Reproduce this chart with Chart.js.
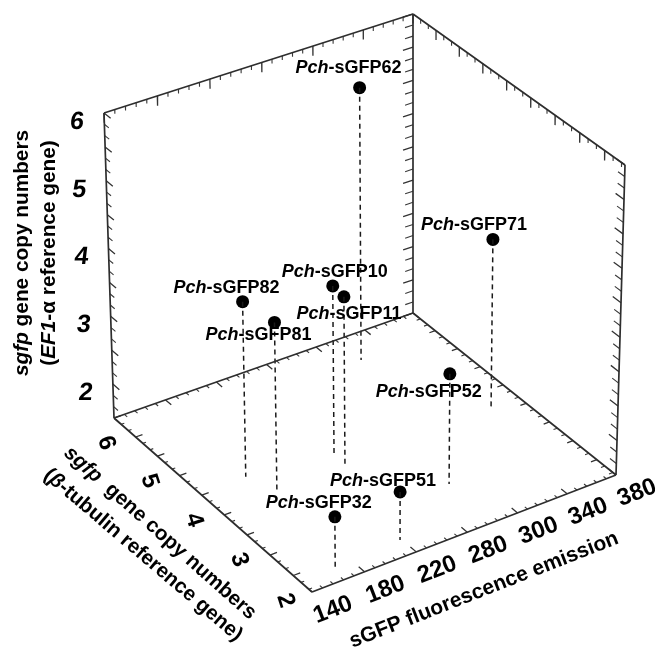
<!DOCTYPE html>
<html>
<head>
<meta charset="utf-8">
<style>html,body{margin:0;padding:0;background:#fff}canvas{display:block;filter:blur(0.45px)}</style>
<script src="https://cdn.jsdelivr.net/npm/chart.js@4/dist/chart.umd.min.js"></script>
</head>
<body>
<canvas id="c" width="660" height="647"></canvas>
<script>
// ---- data ----
const names = ["62","71","82","81","10","11","52","51","32"];
const fluorescence = [316.6,357.5,175.2,183.9,237.5,235.7,281.6,218.8,167.3];
const betaTubulinCopies = [5.44,3.67,4.04,3.60,3.85,3.56,2.56,1.91,1.87];
const ef1AlphaCopies = [5.56,3.97,4.05,3.93,3.97,3.98,3.10,2.19,2.22];
const labelDx = [-11,-19,-16,-16,2,5,-21,-17,-16];
const labelDy = [-20,-14,-14,13,-14,17,18,-11,-14];
const xTickValues = [140,180,220,260,300,340,380];
const xTickLabels = ["140","180","220","280","300","340","380"];
const yTickValues = [2,3,4,5,6];
const zTickValues = [2,3,4,5,6];
// ---- axis ranges and box projection ----
const xR = [140,380], yR = [1.6,6], zR = [1.5,6];
const floorQuad = [[312,592],[616,475],[413,313],[114,418]];
const topQuad   = [[309,276],[625,165],[413,14],[104,113]];
function homography(q){
  const [p0,p1,p2,p3]=q;
  const dx1=p1[0]-p2[0],dx2=p3[0]-p2[0],sx=p0[0]-p1[0]+p2[0]-p3[0];
  const dy1=p1[1]-p2[1],dy2=p3[1]-p2[1],sy=p0[1]-p1[1]+p2[1]-p3[1];
  const den=dx1*dy2-dx2*dy1;
  const g=(sx*dy2-dx2*sy)/den,h=(dx1*sy-sx*dy1)/den;
  return (u,v)=>{
    const w=1+g*u+h*v;
    return [(p0[0]+(p1[0]-p0[0]+g*p1[0])*u+(p3[0]-p0[0]+h*p3[0])*v)/w,
            (p0[1]+(p1[1]-p0[1]+g*p1[1])*u+(p3[1]-p0[1]+h*p3[1])*v)/w];
  };
}
const hFloor=homography(floorQuad),hTop=homography(topQuad);
function proj(x,y,z){
  const u=(x-xR[0])/(xR[1]-xR[0]),v=(y-yR[0])/(yR[1]-yR[0]),w=(z-zR[0])/(zR[1]-zR[0]);
  const a=hFloor(u,v),b=hTop(u,v);
  return {x:a[0]+(b[0]-a[0])*w,y:a[1]+(b[1]-a[1])*w};
}
const GAP={x:null,y:null};
function seg(list,p,q){list.push(proj(...p),proj(...q),GAP);}
const [x0,x1]=xR,[y0,y1]=yR,[z0,z1]=zR;
// frame
const frame=[];
[[[x0,y1,z0],[x0,y1,z1]],[[x0,y1,z1],[x1,y1,z1]],[[x1,y1,z1],[x1,y0,z1]],[[x1,y0,z1],[x1,y0,z0]],
 [[x1,y0,z0],[x0,y0,z0]],[[x0,y0,z0],[x0,y1,z0]],[[x0,y1,z0],[x1,y1,z0]],[[x1,y1,z0],[x1,y0,z0]],
 [[x1,y1,z0],[x1,y1,z1]]].forEach(s=>seg(frame,s[0],s[1]));
// ticks: lengths are fractions of the axis span, [minor, major]
const minorTicks=[],majorTicks=[];
const lenX=f=>f*(x1-x0),lenY=f=>f*(y1-y0),lenZ=f=>f*(z1-z0);
function pick(a,maj){return maj?a[1]:a[0];}
function run(top,low,step,majorEvery,cb){
  for(let i=0;top-i*step>=low-1e-6;i++){const maj=i%majorEvery===0;cb(top-i*step,maj?majorTicks:minorTicks,maj);}
}
run(380,140,8,5,(t,l,m)=>{
  seg(l,[t,y1,z1],[t,y1,z1-lenZ(pick([.014,.032],m))]);      // top-left edge
  seg(l,[t,y1,z0],[t,y1-lenY(pick([.015,.03],m)),z0]);       // floor back-left
  seg(l,[t,y0,z0],[t,y0+lenY(pick([.013,.028],m)),z0]);      // floor front-right
});
run(6,y0,1/6,3,(t,l,m)=>{
  seg(l,[x1,t,z1],[x1,t,z1-lenZ(pick([.014,.032],m))]);      // top-right edge
  seg(l,[x0,t,z0],[x0+lenX(pick([.01,.022],m)),t,z0]);       // floor front-left
  seg(l,[x1,t,z0],[x1-lenX(pick([.013,.02],m)),t,z0]);       // floor back-right
});
run(6,z0,1/6,3,(t,l,m)=>{
  seg(l,[x0,y1,t],[x0,y1-lenY(pick([.023,.034],m)),t]);      // left edge
  seg(l,[x1,y1,t],[x1-lenX(pick([.027,.034],m)),y1,t]);      // back edge
  seg(l,[x1,y0,t],[x1,y0+lenY(pick([.03,.038],m)),t]);       // right edge
});
// points and drop lines
const points=names.map((_,i)=>proj(fluorescence[i],betaTubulinCopies[i],ef1AlphaCopies[i]));
const drops=[];
names.forEach((_,i)=>seg(drops,[fluorescence[i],betaTubulinCopies[i],ef1AlphaCopies[i]],[fluorescence[i],betaTubulinCopies[i],z0]));

const B='bold ',BI='italic bold ',FF='"Liberation Sans", Arial, sans-serif';
function runs(ctx,parts,cx,cy,deg,size,skew){
  ctx.save();
  ctx.translate(cx,cy);ctx.rotate(deg*Math.PI/180);
  if(skew)ctx.transform(1,0,skew,1,0,0);
  ctx.textBaseline='middle';ctx.textAlign='left';ctx.fillStyle='#000';
  let total=0;
  parts.forEach(p=>{ctx.font=p[1]+size+'px '+FF;total+=ctx.measureText(p[0]).width;});
  let x=-total/2;
  parts.forEach(p=>{ctx.font=p[1]+size+'px '+FF;ctx.fillText(p[0],x,0);x+=ctx.measureText(p[0]).width;});
  ctx.restore();
}
const textPlugin={id:'texts',afterDatasetsDraw(chart){
  const ctx=chart.ctx,sx=chart.scales.x,sy=chart.scales.y;
  const at=(p)=>[sx.getPixelForValue(p.x),sy.getPixelForValue(p.y)];
  // point labels
  names.forEach((n,i)=>{
    const [px,py]=at(points[i]);
    runs(ctx,[['Pch',BI],['-sGFP'+n,B]],px+labelDx[i],py+labelDy[i],0,18);
  });
  // tick labels
  xTickValues.forEach((v,i)=>{const [px,py]=at(proj(v,y0,z0));runs(ctx,[[xTickLabels[i],B]],px+21,py+18,-21,24);});
  yTickValues.forEach(v=>{const [px,py]=at(proj(x0,v,z0));runs(ctx,[[String(v),B]],px-8,py+25,72,24);});
  zTickValues.forEach(v=>{const [px,py]=at(proj(x0,y1,v));runs(ctx,[[String(v),B]],px-27,py+9,0,25,-0.12);});
  // axis titles
  runs(ctx,[['sgfp',BI],[' gene copy numbers',B]],22,253,-90,20.8);
  runs(ctx,[['(',B],['EF1',BI],['-\u03b1 reference gene)',B]],49,253,-90,20.8);
  runs(ctx,[['sgfp',BI],['  gene copy numbers',B]],160,533,41.6,20.6);
  runs(ctx,[['(',B],['\u03b2',BI],['-tubulin reference gene)',B]],143,555,40.5,20.6);
  runs(ctx,[['sGFP fluorescence emission',B]],484,590,-21.4,21);
}};
new Chart(document.getElementById('c'),{
  type:'scatter',
  data:{datasets:[
    {data:frame,showLine:true,spanGaps:false,borderColor:'#2e2e2e',borderWidth:1.7,pointRadius:0},
    {data:minorTicks,showLine:true,spanGaps:false,borderColor:'#3a3a3a',borderWidth:1.1,pointRadius:0},
    {data:majorTicks,showLine:true,spanGaps:false,borderColor:'#333',borderWidth:1.3,pointRadius:0},
    {data:drops,showLine:true,spanGaps:false,borderColor:'#1a1a1a',borderWidth:1.5,borderDash:[5,4],pointRadius:0},
    {data:points,showLine:false,pointStyle:'circle',pointRadius:6.5,backgroundColor:'#000',borderColor:'#000',borderWidth:0}
  ]},
  options:{
    responsive:false,animation:false,
    layout:{padding:0,autoPadding:false},
    plugins:{legend:{display:false},tooltip:{enabled:false},title:{display:false}},
    scales:{
      x:{type:'linear',min:0,max:660,display:false},
      y:{type:'linear',min:0,max:647,reverse:true,display:false}
    }
  },
  plugins:[textPlugin]
});
</script>
</body>
</html>
